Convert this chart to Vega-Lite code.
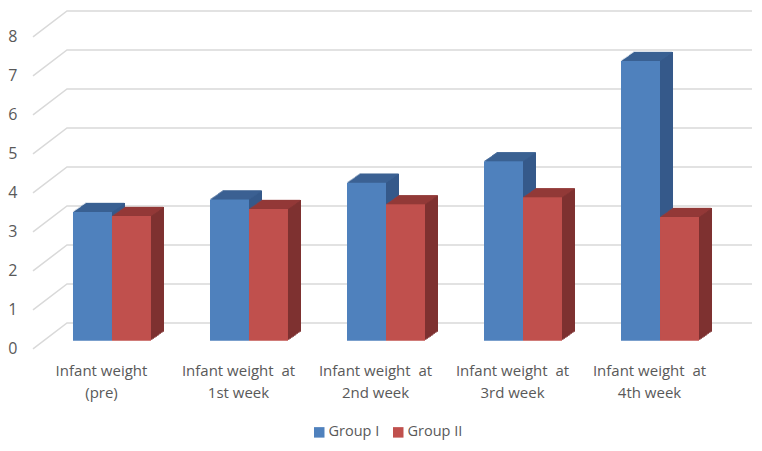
{"$schema":"https://vega.github.io/schema/vega-lite/v6.json","width":762,"height":451,"padding":0,"autosize":{"type":"none"},"background":"white","config":{"view":{"stroke":null},"font":"Open Sans"},
"datasets":{"bars":[
{"cat":"Infant weight|(pre)","group":"Group I","value":3.3},{"cat":"Infant weight|(pre)","group":"Group II","value":3.2},
{"cat":"Infant weight  at|1st week","group":"Group I","value":3.62},{"cat":"Infant weight  at|1st week","group":"Group II","value":3.38},
{"cat":"Infant weight  at|2nd week","group":"Group I","value":4.05},{"cat":"Infant weight  at|2nd week","group":"Group II","value":3.5},
{"cat":"Infant weight  at|3rd week","group":"Group I","value":4.6},{"cat":"Infant weight  at|3rd week","group":"Group II","value":3.68},
{"cat":"Infant weight  at|4th week","group":"Group I","value":7.17},{"cat":"Infant weight  at|4th week","group":"Group II","value":3.17}],
"grid":[
{"tick":0,"pos":0,"level":-0.21},{"tick":0,"pos":0.05,"level":0.455},{"tick":0,"pos":1,"level":0.455},
{"tick":1,"pos":0,"level":0.79},{"tick":1,"pos":0.05,"level":1.455},{"tick":1,"pos":1,"level":1.455},
{"tick":2,"pos":0,"level":1.79},{"tick":2,"pos":0.05,"level":2.455},{"tick":2,"pos":1,"level":2.455},
{"tick":3,"pos":0,"level":2.79},{"tick":3,"pos":0.05,"level":3.455},{"tick":3,"pos":1,"level":3.455},
{"tick":4,"pos":0,"level":3.79},{"tick":4,"pos":0.05,"level":4.455},{"tick":4,"pos":1,"level":4.455},
{"tick":5,"pos":0,"level":4.79},{"tick":5,"pos":0.05,"level":5.455},{"tick":5,"pos":1,"level":5.455},
{"tick":6,"pos":0,"level":5.79},{"tick":6,"pos":0.05,"level":6.455},{"tick":6,"pos":1,"level":6.455},
{"tick":7,"pos":0,"level":6.79},{"tick":7,"pos":0.05,"level":7.455},{"tick":7,"pos":1,"level":7.455},
{"tick":8,"pos":0,"level":7.79},{"tick":8,"pos":0.05,"level":8.455},{"tick":8,"pos":1,"level":8.455}]},
"layer":[
{"data":{"name":"grid"},"mark":{"type":"line","color":"#d9d9d9","strokeWidth":1.5,"clip":false},
"encoding":{"detail":{"field":"tick"},"order":{"field":"pos"},
"x":{"field":"pos","type":"quantitative","axis":null,"scale":{"domain":[0,0.05,1],"range":[33,67,752]}},
"y":{"field":"level","type":"quantitative","title":null,"scale":{"domain":[0,8],"range":[340.7,28.7],"nice":false,"zero":false},
"axis":{"orient":"left","offset":-17,"domain":false,"ticks":false,"grid":false,"labelPadding":0,"values":[0,1,2,3,4,5,6,7,8],"format":"d","labelOverlap":false,"labelOffset":8,"labelFontSize":16,"labelColor":"#595959","labelFont":"Open Sans"}}}},
{"data":{"name":"bars"},
"encoding":{"x":{"field":"cat","type":"nominal","sort":null,"title":null,"scale":{"range":[43.5,728.5],"paddingInner":0.4307,"paddingOuter":0.2153},
"axis":{"orient":"bottom","offset":-88,"domain":false,"ticks":false,"labelAngle":0,"labelPadding":0,"labelOffset":-10.5,"labelFontSize":15,"labelColor":"#595959","labelFont":"Open Sans","labelLineHeight":22,"labelOverlap":false,"labelExpr":"split(replace(datum.label,'  ','\u00a0 '),'|')","labelBaseline":"top"}},
"y":{"field":"value","type":"quantitative"}},
"layer":[
{"transform":[{"filter":"datum.group==='Group I'"}],"layer":[
{"mark":{"type":"bar","color":"#35598a","width":39,"xOffset":-18,"yOffset":-1,"y2Offset":-1}},
{"mark":{"type":"bar","color":"#35598a","width":39,"xOffset":-16.5,"yOffset":-2,"y2Offset":-2}},
{"mark":{"type":"bar","color":"#35598a","width":39,"xOffset":-15,"yOffset":-3,"y2Offset":-3}},
{"mark":{"type":"bar","color":"#35598a","width":39,"xOffset":-13.5,"yOffset":-4,"y2Offset":-4}},
{"mark":{"type":"bar","color":"#35598a","width":39,"xOffset":-12,"yOffset":-5,"y2Offset":-5}},
{"mark":{"type":"bar","color":"#35598a","width":39,"xOffset":-11,"yOffset":-6,"y2Offset":-6}},
{"mark":{"type":"bar","color":"#35598a","width":39,"xOffset":-9.5,"yOffset":-7,"y2Offset":-7}},
{"mark":{"type":"bar","color":"#35598a","width":39,"xOffset":-8,"yOffset":-8,"y2Offset":-8}},
{"mark":{"type":"bar","color":"#35598a","width":39,"xOffset":-6.5,"yOffset":-9,"y2Offset":-9}},
{"mark":{"type":"tick","color":"#3d6496","size":39,"thickness":1.5,"xOffset":-18.8,"yOffset":-0.5}},
{"mark":{"type":"tick","color":"#3d6496","size":39,"thickness":1.5,"xOffset":-17.3,"yOffset":-1.5}},
{"mark":{"type":"tick","color":"#3d6496","size":39,"thickness":1.5,"xOffset":-15.8,"yOffset":-2.5}},
{"mark":{"type":"tick","color":"#3d6496","size":39,"thickness":1.5,"xOffset":-14.3,"yOffset":-3.5}},
{"mark":{"type":"tick","color":"#3d6496","size":39,"thickness":1.5,"xOffset":-12.8,"yOffset":-4.5}},
{"mark":{"type":"tick","color":"#3d6496","size":39,"thickness":1.5,"xOffset":-11.5,"yOffset":-5.5}},
{"mark":{"type":"tick","color":"#3d6496","size":39,"thickness":1.5,"xOffset":-10.2,"yOffset":-6.5}},
{"mark":{"type":"tick","color":"#3d6496","size":39,"thickness":1.5,"xOffset":-8.7,"yOffset":-7.5}},
{"mark":{"type":"tick","color":"#3d6496","size":39,"thickness":1.5,"xOffset":-7.3,"yOffset":-8.5}}]},
{"transform":[{"filter":"datum.group==='Group II'"}],"layer":[
{"mark":{"type":"bar","color":"#7e3130","width":39,"xOffset":21,"yOffset":-1,"y2Offset":-1}},
{"mark":{"type":"bar","color":"#7e3130","width":39,"xOffset":22.5,"yOffset":-2,"y2Offset":-2}},
{"mark":{"type":"bar","color":"#7e3130","width":39,"xOffset":24,"yOffset":-3,"y2Offset":-3}},
{"mark":{"type":"bar","color":"#7e3130","width":39,"xOffset":25.5,"yOffset":-4,"y2Offset":-4}},
{"mark":{"type":"bar","color":"#7e3130","width":39,"xOffset":27,"yOffset":-5,"y2Offset":-5}},
{"mark":{"type":"bar","color":"#7e3130","width":39,"xOffset":28,"yOffset":-6,"y2Offset":-6}},
{"mark":{"type":"bar","color":"#7e3130","width":39,"xOffset":29.5,"yOffset":-7,"y2Offset":-7}},
{"mark":{"type":"bar","color":"#7e3130","width":39,"xOffset":31,"yOffset":-8,"y2Offset":-8}},
{"mark":{"type":"bar","color":"#7e3130","width":39,"xOffset":32.5,"yOffset":-9,"y2Offset":-9}},
{"mark":{"type":"tick","color":"#983c3a","size":39,"thickness":1.5,"xOffset":20.2,"yOffset":-0.5}},
{"mark":{"type":"tick","color":"#983c3a","size":39,"thickness":1.5,"xOffset":21.7,"yOffset":-1.5}},
{"mark":{"type":"tick","color":"#983c3a","size":39,"thickness":1.5,"xOffset":23.2,"yOffset":-2.5}},
{"mark":{"type":"tick","color":"#983c3a","size":39,"thickness":1.5,"xOffset":24.7,"yOffset":-3.5}},
{"mark":{"type":"tick","color":"#983c3a","size":39,"thickness":1.5,"xOffset":26.2,"yOffset":-4.5}},
{"mark":{"type":"tick","color":"#983c3a","size":39,"thickness":1.5,"xOffset":27.5,"yOffset":-5.5}},
{"mark":{"type":"tick","color":"#983c3a","size":39,"thickness":1.5,"xOffset":28.8,"yOffset":-6.5}},
{"mark":{"type":"tick","color":"#983c3a","size":39,"thickness":1.5,"xOffset":30.3,"yOffset":-7.5}},
{"mark":{"type":"tick","color":"#983c3a","size":39,"thickness":1.5,"xOffset":31.7,"yOffset":-8.5}}]},
{"transform":[{"filter":"datum.group==='Group I'"}],"mark":{"type":"bar","width":39,"xOffset":-19.5},"encoding":{"color":{"field":"group","type":"nominal","title":null,"scale":{"domain":["Group I","Group II"],"range":["#4f81bd","#c0504d"]},
"legend":{"orient":"none","legendX":312,"legendY":425,"direction":"horizontal","symbolType":"square","symbolSize":110,"symbolStrokeWidth":0,"labelFontSize":14.5,"labelColor":"#595959","labelFont":"Open Sans","columnPadding":11,"labelOffset":2}}}},
{"transform":[{"filter":"datum.group==='Group II'"}],"mark":{"type":"bar","width":39,"xOffset":19.5},"encoding":{"color":{"field":"group","type":"nominal","title":null,"scale":{"domain":["Group I","Group II"],"range":["#4f81bd","#c0504d"]}}}}
]}],
"resolve":{"scale":{"x":"independent"}}}
